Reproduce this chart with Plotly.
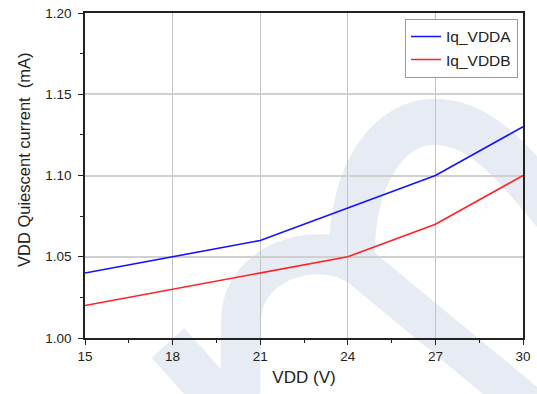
import plotly.graph_objects as go

vdd = [15, 18, 21, 24, 27, 30]
iq_vdda = [1.04, 1.05, 1.06, 1.08, 1.10, 1.13]
iq_vddb = [1.02, 1.03, 1.04, 1.05, 1.07, 1.10]
x_ticks = [15, 18, 21, 24, 27, 30]
y_ticks = [1.00, 1.05, 1.10, 1.15, 1.20]
y_tick_text = ["1.00", "1.05", "1.10", "1.15", "1.20"]
y_title = "VDD Quiescent current\u00a0 (mA)"

W, H = 537, 394
ML, MR, MT, MB = 85, 14, 13, 56
PW, PH = W - ML - MR, H - MT - MB

def px(x, y):
    return (x - ML) / PW, 1 - (y - MT) / PH

def path(cmds):
    out = []
    for c in cmds:
        if isinstance(c, str):
            out.append(c)
        else:
            a, b = px(*c)
            out.append(f"{a:.4f},{b:.4f}")
    return " ".join(out)

fig = go.Figure()
fig.add_trace(go.Scatter(x=vdd, y=iq_vdda, mode="lines", name="Iq_VDDA",
                         line=dict(color="#1414ff", width=1.6)))
fig.add_trace(go.Scatter(x=vdd, y=iq_vddb, mode="lines", name="Iq_VDDB",
                         line=dict(color="#ff2323", width=1.6)))

wm = "#e7ebf3"
shapes = [
    dict(type="path", xref="paper", yref="paper", layer="below",
         path=path(["M", (168, 343), "L", (226, 408)]),
         line=dict(color=wm, width=44)),
    dict(type="path", xref="paper", yref="paper", layer="below",
         path=path(["M", (240, 430), "L", (241, 320), "C", (242, 262), (318, 236), (362, 268), "L", (570, 440)]),
         line=dict(color=wm, width=40)),
    dict(type="path", xref="paper", yref="paper", layer="below",
         path=path(["M", (352, 270), "C", (348, 170), (392, 118), (440, 122), "C", (485, 126), (515, 160), (600, 270)]),
         line=dict(color=wm, width=46)),
]

tx, ty = px(24, 160)
annotations = [
    dict(text=y_title, xref="paper", yref="paper", x=tx, y=ty,
         xanchor="center", yanchor="middle", textangle=-90, showarrow=False,
         font=dict(size=16.5, color="#222222")),
]

font_fam = "Liberation Sans, Arial, sans-serif"
fig.update_layout(
    width=W, height=H,
    margin=dict(l=ML, r=MR, t=MT, b=MB),
    paper_bgcolor="white", plot_bgcolor="rgba(0,0,0,0)",
    font=dict(family=font_fam, color="#222222", size=13),
    shapes=shapes,
    annotations=annotations,
    showlegend=True,
    legend=dict(x=0.9886, y=0.982, xanchor="right", yanchor="top",
                bgcolor="white", bordercolor="#9a9a9a", borderwidth=1,
                font=dict(size=15.5, color="#222222"),
                tracegroupgap=0, itemwidth=30),
    xaxis=dict(range=[15, 30], tickmode="array", tickvals=x_ticks,
               automargin=False,
               ticks="outside", ticklen=5, tickwidth=1.2, tickcolor="#222",
               showline=True, linecolor="#222", linewidth=1.6, mirror=True,
               showgrid=True, gridcolor="#c4c4c4", gridwidth=1,
               zeroline=False,
               minor=dict(ticks="outside", ticklen=3, dtick=1.5, tick0=15,
                          tickcolor="#222", showgrid=False),
               tickfont=dict(size=13.5),
               title=dict(text="VDD (V)", font=dict(size=17), standoff=8)),
    yaxis=dict(range=[1.0, 1.2], tickmode="array", tickvals=y_ticks,
               ticktext=y_tick_text, automargin=False,
               ticks="outside", ticklen=5, tickwidth=1.2, tickcolor="#222",
               ticklabelstandoff=4,
               showline=True, linecolor="#222", linewidth=1.6, mirror=True,
               showgrid=True, gridcolor="#d0d0d0", gridwidth=1.5,
               zeroline=False,
               minor=dict(ticks="outside", ticklen=3, dtick=0.025, tick0=1.0,
                          tickcolor="#222", showgrid=False),
               tickfont=dict(size=13.5)),
)

fig.write_html("out.html")
